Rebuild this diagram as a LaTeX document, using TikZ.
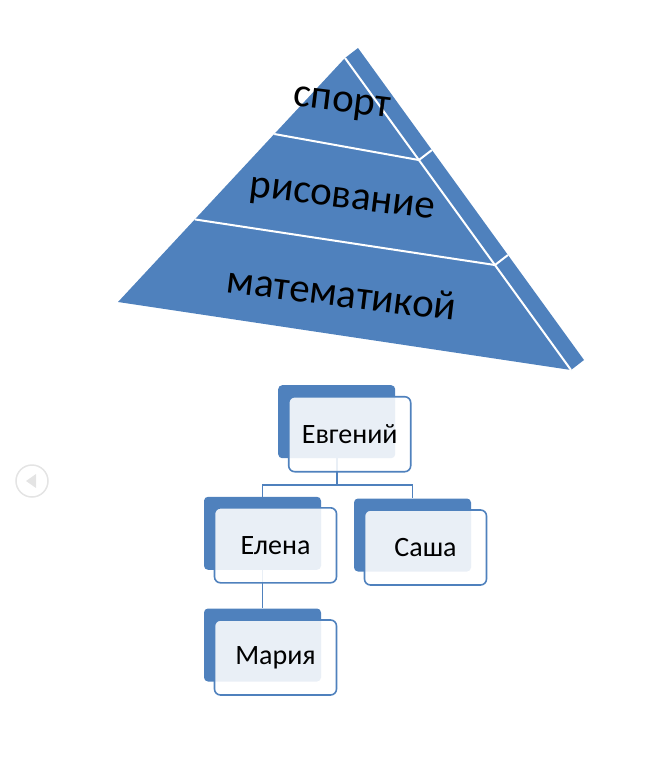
\documentclass[tikz,border=0pt]{standalone}
\usepackage{fontspec}
\setmainfont{Carlito}
\usetikzlibrary{calc}

\definecolor{pyrblue}{RGB}{79,129,189}
\definecolor{navgrey}{RGB}{228,228,228}

\begin{document}
\begin{tikzpicture}[x=1pt,y=-1pt,
  backbox/.style={fill=pyrblue, rounded corners=4pt, minimum width=117pt, minimum height=73pt, inner sep=0pt},
  frontbox/.style={draw=pyrblue, line width=1.6pt, fill=white, fill opacity=0.88, text opacity=1,
    rounded corners=6pt, minimum width=122pt, minimum height=75pt, inner sep=0pt,
    font=\fontsize{28}{32}\selectfont},
  link/.style={draw=pyrblue, line width=1.6pt},
  layer/.style={rotate=-7, inner sep=0pt, font=\fontsize{41}{46}\selectfont},
  sep/.style={draw=white, line width=2pt}]

% Fix the page size
\useasboundingbox (0,0) rectangle (651,761);

% Pyramid corners
\coordinate (A) at (345,58);
\coordinate (B) at (118,302);
\coordinate (C) at (571,370);
\def\dx{13}
\def\dy{-10}

% Side strip and front face
\fill[pyrblue] (A) -- ++(\dx,\dy) -- ($(C)+(\dx,\dy)$) -- (C) -- cycle;
\fill[pyrblue] (A) -- (B) -- (C) -- cycle;

% Layer borders
\coordinate (L1) at ($(A)!0.3115!(B)$);
\coordinate (R1) at ($(A)!0.327!(C)$);
\coordinate (L2) at ($(A)!0.6615!(B)$);
\coordinate (R2) at ($(A)!0.6635!(C)$);
\draw[sep] (A) -- (C);
\draw[sep] (L1) -- (R1) -- ++(\dx,\dy);
\draw[sep] (L2) -- (R2) -- ++(\dx,\dy);

% Layer labels
\node[layer] (sport) at (342,105) {спорт};
\node[layer] (drawing) at (342,201) {рисование};
\node[layer] (maths) at (342,293) {математикой};

% Org chart back boxes and connectors
\node[backbox] (evgback) at (336.7,421.7) {};
\node[backbox] (elenaback) at (262.5,533.3) {};
\node[backbox] (sashaback) at (412.5,535) {};
\node[backbox] (mariaback) at (262.5,645) {};
\coordinate (fork) at (336.7,485);
\draw[link] (evgback.south) -- (fork) -| (elenaback.north);
\draw[link] (fork) -| (sashaback.north);
\draw[link] (elenaback.south) -- (mariaback.north);

% Front boxes with names
\node[frontbox] (evg) at ($(evgback)+(13,12.5)$) {Евгений};
\node[frontbox] (elena) at ($(elenaback)+(13,12)$) {Елена};
\node[frontbox] (sasha) at ($(sashaback)+(13,12.5)$) {Саша};
\node[frontbox] (maria) at ($(mariaback)+(13,12.5)$) {Мария};

% Slide navigation button
\coordinate (nav) at (32,481);
\draw[navgrey, line width=1.5pt] (nav) circle (16);
\fill[navgrey] ($(nav)+(-6,0)$) -- ++(10,-7) -- ++(0,14) -- cycle;

\end{tikzpicture}
\end{document}
